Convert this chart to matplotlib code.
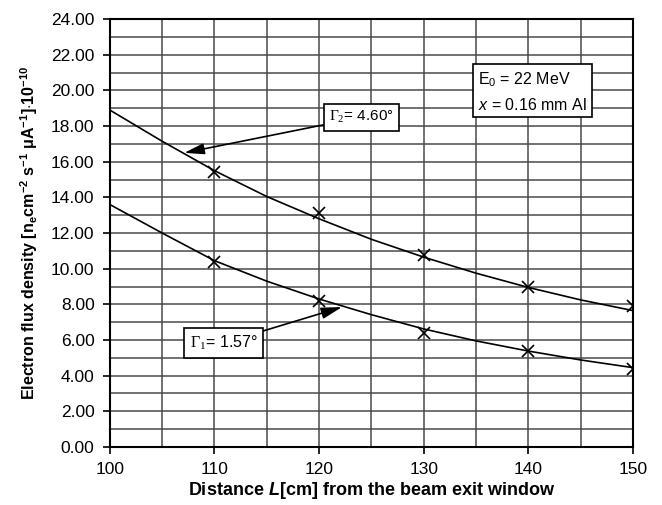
import matplotlib
matplotlib.use("Agg")
import matplotlib.pyplot as plt
from matplotlib.ticker import MultipleLocator, FormatStrFormatter

plt.rcParams['font.family'] = ['Liberation Sans', 'DejaVu Sans']
plt.rcParams['mathtext.fontset'] = 'custom'
plt.rcParams['mathtext.rm'] = 'Liberation Serif'
plt.rcParams['mathtext.sf'] = 'Liberation Sans'
plt.rcParams['mathtext.it'] = 'Liberation Sans:italic'
plt.rcParams['mathtext.bf'] = 'Liberation Sans:bold'
plt.rcParams['mathtext.bfit'] = 'Liberation Sans:italic:bold'

# measured points (x markers)
dist = [110, 120, 130, 140, 150]
flux_g2 = [15.4, 13.1, 10.75, 8.95, 7.9]
flux_g1 = [10.4, 8.2, 6.4, 5.4, 4.4]

# fitted curves, every 5 cm
curve_x = [100, 105, 110, 115, 120, 125, 130, 135, 140, 145, 150]
curve_g2 = [18.9, 17.15, 15.5, 14.05, 12.8, 11.65, 10.65, 9.75, 8.95, 8.25, 7.65]
curve_g1 = [13.6, 12.0, 10.45, 9.3, 8.3, 7.42, 6.62, 5.95, 5.38, 4.88, 4.45]

fig = plt.figure(figsize=(6.62, 5.05), dpi=100)
ax = fig.add_axes([0.166, 0.115, 0.790, 0.847])

ax.plot(curve_x, curve_g2, color='k', lw=1.2)
ax.plot(curve_x, curve_g1, color='k', lw=1.2)
ax.plot(dist, flux_g2, 'x', color='k', ms=9, mew=1.2)
ax.plot(dist, flux_g1, 'x', color='k', ms=9, mew=1.2)

ax.set_xlim(100, 150)
ax.set_ylim(0, 24)
ax.xaxis.set_major_locator(MultipleLocator(10))
ax.xaxis.set_minor_locator(MultipleLocator(5))
ax.yaxis.set_major_locator(MultipleLocator(2))
ax.yaxis.set_minor_locator(MultipleLocator(1))
ax.yaxis.set_major_formatter(FormatStrFormatter('%.2f'))
ax.grid(which='both', color='#4a4a4a', lw=1.1)
ax.set_axisbelow(True)
ax.tick_params(which='major', direction='out', length=5, width=1.2, labelsize=12.5, pad=6)
ax.tick_params(which='minor', length=0)
for s in ax.spines.values():
    s.set_linewidth(1.5)

ax.set_xlabel(r'Distance $\mathbfit{L}$[cm] from the beam exit window',
              fontsize=13, fontweight='bold', labelpad=2)
ax.set_ylabel(r'Electron flux density [n$_\mathbf{e}$cm$^{\mathbf{-2}}$ s$^{\mathbf{-1}}$ '
              r'$\mathbf{\mu}$A$^{\mathbf{-1}}$]$\cdot$10$^{\mathbf{-10}}$',
              fontsize=11.5, fontweight='bold', labelpad=8)

arrow = dict(arrowstyle='-|>,head_length=1.1,head_width=0.3', color='k', lw=1.2,
             shrinkA=0, shrinkB=0)
box = dict(boxstyle='square,pad=0.35', fc='white', ec='k', lw=1.2)
ax.annotate(r'$\Gamma_2$= 4.60°', xy=(107.1, 16.5), xytext=(124.05, 18.5),
            ha='center', va='center', fontsize=11, bbox=box, arrowprops=arrow)
ax.annotate(r'$\Gamma_1$= 1.57°', xy=(122.2, 7.85), xytext=(110.85, 5.83),
            ha='center', va='center', fontsize=11.5, bbox=box, arrowprops=arrow)
ax.text(135.2, 19.95, 'E$_\\mathsf{0}$ = 22 MeV\n$x$ = 0.16 mm Al',
        ha='left', va='center', fontsize=11.5, linespacing=1.6,
        bbox=dict(boxstyle='square,pad=0.3', fc='white', ec='k', lw=1.2))

fig.savefig('out.png', dpi=100)
